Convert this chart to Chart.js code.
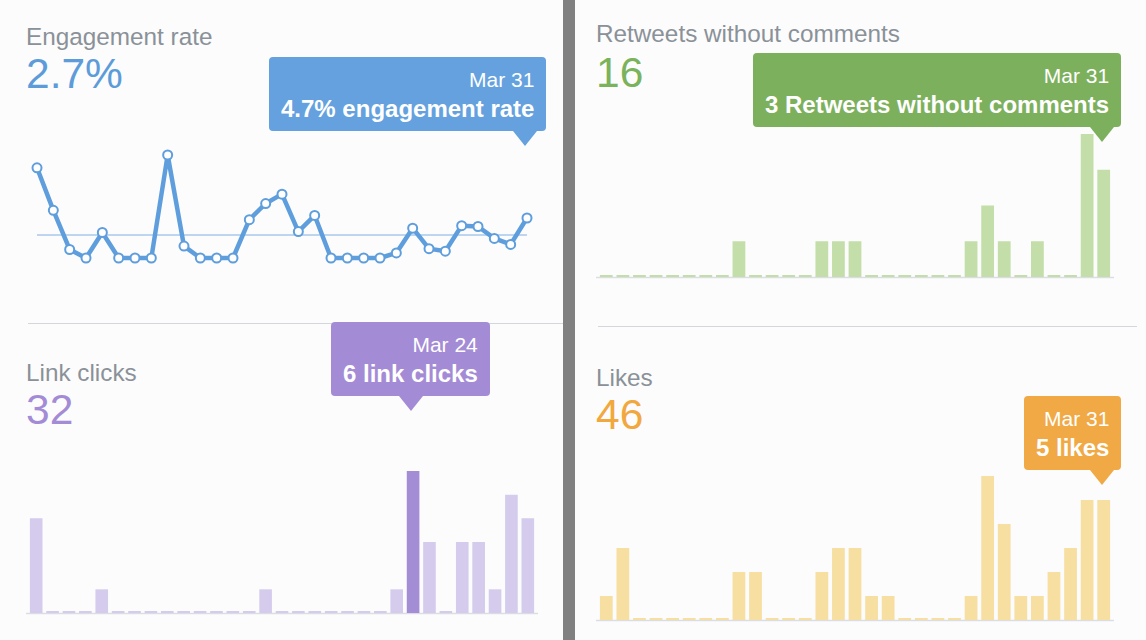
<!DOCTYPE html>
<html><head><meta charset="utf-8">
<script src="https://cdn.jsdelivr.net/npm/chart.js@4.4.1/dist/chart.umd.min.js"></script>
<style>
html,body{margin:0;padding:0;background:#fcfcfd;width:1146px;height:640px;overflow:hidden;font-family:"Helvetica Neue",Helvetica,Arial,"Liberation Sans",sans-serif;}
.title{position:absolute;font-size:24.3px;color:#8a9198;line-height:24px;white-space:nowrap}
.big{position:absolute;font-size:42.5px;line-height:42px;white-space:nowrap}
canvas{position:absolute}
.hr{position:absolute;height:1.5px;background:#d3d7dd}
.divider{position:absolute;left:563px;top:0;width:12px;height:640px;background:#808080}
.tip{position:absolute;color:#fff;border-radius:4px;padding:8px 12px;text-align:right;white-space:nowrap;line-height:29px;background:var(--c)}
.tip .d{font-size:21px;display:block}
.tip .v{font-size:24px;font-weight:bold;display:block}
.tip:after{content:"";position:absolute;top:100%;left:var(--ax);margin-left:-12px;border-left:12px solid transparent;border-right:12px solid transparent;border-top:15px solid var(--c)}
</style>
</head>
<body>
<div class="divider"></div>
<div class="hr" style="left:28px;width:535px;top:322.5px"></div>
<div class="hr" style="left:598px;width:539px;top:325.5px"></div>

<div class="title" style="left:26px;top:25px">Engagement rate</div>
<div class="big" id="engTotal" style="left:26px;top:53px;color:#5d9cd9"></div>
<div class="title" style="left:26px;top:361px">Link clicks</div>
<div class="big" id="clickTotal" style="left:26px;top:389px;color:#a48bd5"></div>
<div class="title" style="left:596px;top:22px">Retweets without comments</div>
<div class="big" id="rtTotal" style="left:596px;top:52px;color:#7ab35c"></div>
<div class="title" style="left:596px;top:366px">Likes</div>
<div class="big" id="likeTotal" style="left:596px;top:394px;color:#f1a83e"></div>

<canvas id="c1" width="563" height="140" style="left:0;top:140px"></canvas>
<canvas id="c2" width="563" height="200" style="left:0;top:440px"></canvas>
<canvas id="c3" width="571" height="190" style="left:575px;top:110px"></canvas>
<canvas id="c4" width="571" height="200" style="left:575px;top:440px"></canvas>

<div class="tip" id="t1" style="--c:#64a1de"></div>
<div class="tip" id="t2" style="--c:#a48bd5"></div>
<div class="tip" id="t3" style="--c:#7db05c"></div>
<div class="tip" id="t4" style="--c:#f0a944"></div>

<script>
// ---- data ----
const days = ['Mar 1','Mar 2','Mar 3','Mar 4','Mar 5','Mar 6','Mar 7','Mar 8','Mar 9','Mar 10',
  'Mar 11','Mar 12','Mar 13','Mar 14','Mar 15','Mar 16','Mar 17','Mar 18','Mar 19','Mar 20',
  'Mar 21','Mar 22','Mar 23','Mar 24','Mar 25','Mar 26','Mar 27','Mar 28','Mar 29','Mar 30','Mar 31'];
const engagementRate = [10.6,5.6,1.0,0,3.0,0,0,0,12.1,1.4,0,0,0,4.5,6.4,7.5,3.1,5.0,0,0,0,0,0.6,3.5,1.1,0.8,3.8,3.7,2.3,1.6,4.7];
const engagementAverage = 2.7;
const linkClicks = [4,0,0,0,1,0,0,0,0,0,0,0,0,0,1,0,0,0,0,0,0,0,1,6,3,0,3,3,1,5,4];
const retweetsWithoutComments = [0,0,0,0,0,0,0,0,1,0,0,0,0,1,1,1,0,0,0,0,0,0,1,2,1,0,1,0,0,4,3];
const likes = [1,3,0,0,0,0,0,0,2,2,0,0,0,2,3,3,1,1,0,0,0,0,1,6,4,1,1,2,3,5,5];
const totals = {engagement:'2.7%', clicks:'32', retweets:'16', likes:'46'};
const highlight = {engagement:30, clicks:23, retweets:30, likes:30};

document.getElementById('engTotal').textContent = totals.engagement;
document.getElementById('clickTotal').textContent = totals.clicks;
document.getElementById('rtTotal').textContent = totals.retweets;
document.getElementById('likeTotal').textContent = totals.likes;

function setTip(id, date, text){
  document.getElementById(id).innerHTML = '<span class="d">'+date+'</span><span class="v">'+text+'</span>';
}
setTip('t1', days[highlight.engagement], engagementRate[highlight.engagement]+'% engagement rate');
setTip('t2', days[highlight.clicks], linkClicks[highlight.clicks]+' link clicks');
setTip('t3', days[highlight.retweets], retweetsWithoutComments[highlight.retweets]+' Retweets without comments');
setTip('t4', days[highlight.likes], likes[highlight.likes]+' likes');

function tipPlugin(tipId, idx, boxTop, maxRight){
  return {id:'tipPos', afterRender(chart){
    const el = chart.getDatasetMeta(0).data[idx];
    const tip = document.getElementById(tipId);
    const x = chart.canvas.offsetLeft + el.x - 2;
    const w = tip.offsetWidth;
    const left = Math.min(x - w/2, maxRight - w);
    tip.style.left = left + 'px';
    tip.style.top = boxTop + 'px';
    tip.style.setProperty('--ax', (x - left) + 'px');
  }};
}
function baselinePlugin(color){
  return {id:'baseline', beforeDatasetsDraw(chart){
    const {ctx, chartArea} = chart;
    const y = chart.scales.y.getPixelForValue(0);
    ctx.save(); ctx.strokeStyle = color; ctx.lineWidth = 1.5;
    ctx.beginPath(); ctx.moveTo(chartArea.left - 2, y + 0.5); ctx.lineTo(chartArea.right + 2, y + 0.5); ctx.stroke();
    ctx.restore();
  }};
}
const avgPlugin = {id:'avg', beforeDatasetsDraw(chart){
  const {ctx, chartArea} = chart;
  const y = chart.scales.y.getPixelForValue(engagementAverage);
  ctx.save(); ctx.strokeStyle = '#a9c8ea'; ctx.lineWidth = 1.5;
  ctx.beginPath(); ctx.moveTo(chartArea.left, y); ctx.lineTo(chartArea.right, y); ctx.stroke();
  ctx.restore();
}};

Chart.defaults.animation = false;
Chart.defaults.plugins.legend.display = false;
Chart.defaults.plugins.tooltip.enabled = false;
Chart.defaults.responsive = false;

new Chart(document.getElementById('c1'), {
  type:'line',
  data:{labels:days, datasets:[{data:engagementRate, borderColor:'#5f9edc', borderWidth:4.5, tension:0,
    pointRadius:4.5, pointBorderWidth:2, pointBackgroundColor:'#ffffff', pointBorderColor:'#5f9edc',
    borderJoinStyle:'round', borderCapStyle:'round', clip:false}]},
  options:{layout:{padding:{left:37, right:36, top:15, bottom:22}},
    scales:{x:{display:false}, y:{display:false, min:0, max:Math.max(...engagementRate)}}},
  plugins:[avgPlugin, tipPlugin('t1', highlight.engagement, 57, 546)]
});

function barChart(canvasId, data, hiIdx, light, dark, pad, tipId, boxTop, maxRight){
  new Chart(document.getElementById(canvasId), {
    type:'bar',
    data:{labels:days, datasets:[{data:data,
      backgroundColor:data.map((v,i)=> i===hiIdx && dark ? dark : light),
      barPercentage:0.77, categoryPercentage:1, minBarLength:2}]},
    options:{layout:{padding:pad},
      scales:{x:{display:false}, y:{display:false, min:0, max:Math.max(...data)}}},
    plugins:[baselinePlugin('#dcdde4'), tipPlugin(tipId, hiIdx, boxTop, maxRight)]
  });
}
barChart('c2', linkClicks, highlight.clicks, '#d4cbed', '#a38dd4', {left:28, right:27, top:31, bottom:27}, 't2', 322, 490);
barChart('c3', retweetsWithoutComments, highlight.retweets, '#c3dea8', null, {left:23, right:34, top:24, bottom:23}, 't3', 53, 1121);
barChart('c4', likes, highlight.likes, '#f7dfa2', null, {left:23, right:34, top:36, bottom:20}, 't4', 396, 1121);
</script>
</body></html>
